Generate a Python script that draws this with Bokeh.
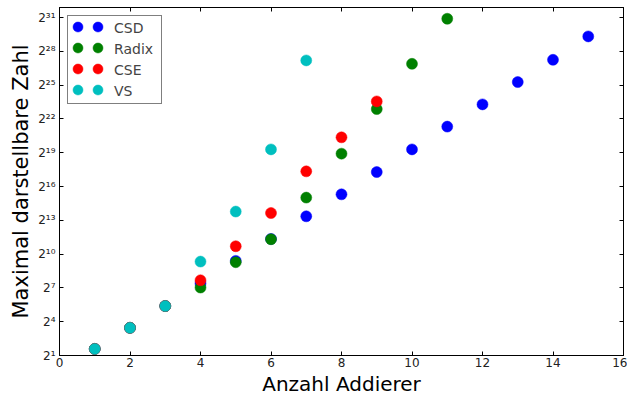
from bokeh.plotting import figure
from bokeh.models import (Range1d, FixedTicker, LinearAxis, LogAxis, Legend,
                          LegendItem, CustomJSTickFormatter)
from bokeh.embed import file_html
from bokeh.resources import INLINE

# ---- data ----
x_csd = list(range(1, 16))
csd = [3, 11, 42, 169, 676, 2610, 10500, 40600, 160000, 645000,
       2620000, 10300000, 40700000, 160000000, 675000000]

x_radix = list(range(1, 12))
radix = [3, 11, 42, 131, 622, 2560, 33200, 496000, 7720000,
         125000000, 2000000000]

x_cse = list(range(1, 10))
cse = [3, 11, 42, 205, 1664, 12860, 167000, 1355000, 12370000]

x_vs = list(range(1, 8))
vs = [3, 11, 42, 648, 14070, 645000, 154000000]

series_names = ["CSD", "Radix", "CSE", "VS"]
series_colors = ["#0000ff", "#008000", "#ff0000", "#00bfbf"]

x_ticks = [0, 2, 4, 6, 8, 10, 12, 14, 16]
y_tick_exponents = [1, 4, 7, 10, 13, 16, 19, 22, 25, 28, 31]

SUP = str.maketrans("0123456789", "⁰¹²³⁴⁵⁶⁷⁸⁹")
y_ticks = [2 ** e for e in y_tick_exponents]
y_labels = {2 ** e: "2" + str(e).translate(SUP) for e in y_tick_exponents}

FONT = "DejaVu Sans"

p = figure(width=627, height=398, output_backend="svg", toolbar_location=None,
           y_axis_type="log", x_range=Range1d(0, 16), y_range=Range1d(2, 4.0e9),
           min_border_left=59, min_border_right=4, min_border_top=7,
           min_border_bottom=10)
p.grid.visible = False
p.outline_line_color = "black"
p.outline_line_width = 1
p.background_fill_color = "white"
p.border_fill_color = "white"

# main axes
xa = p.xaxis[0]
xa.ticker = FixedTicker(ticks=x_ticks)
ya = p.yaxis[0]
ya.ticker = FixedTicker(ticks=y_ticks)
ya.major_label_overrides = y_labels
for ax in (xa, ya):
    ax.major_tick_in = 4
    ax.major_tick_out = 0
    ax.minor_tick_in = 0
    ax.minor_tick_out = 0
    ax.axis_line_color = "black"
    ax.major_tick_line_color = "black"
    ax.major_label_text_font = FONT
    ax.major_label_text_font_size = "12px"
    ax.major_label_text_color = "#222222"
    ax.axis_label_text_font = FONT
    ax.axis_label_text_font_style = "normal"
    ax.axis_label_text_color = "black"
xa.axis_label_text_font_size = "20px"
ya.axis_label_text_font_size = "21px"
xa.axis_label = "Anzahl Addierer"
ya.axis_label = "Maximal darstellbare Zahl"
xa.major_label_standoff = 2
xa.axis_label_standoff = 2
ya.major_label_standoff = 4
ya.axis_label_standoff = 2

blank = CustomJSTickFormatter(code="return ''")
top = LinearAxis(ticker=FixedTicker(ticks=x_ticks), formatter=blank,
                 major_tick_in=4, major_tick_out=0, minor_tick_in=0,
                 minor_tick_out=0, major_label_standoff=0,
                 axis_line_color="black")
right = LogAxis(ticker=FixedTicker(ticks=y_ticks), formatter=blank,
                major_tick_in=4, major_tick_out=0, minor_tick_in=0,
                minor_tick_out=0, major_label_standoff=0,
                axis_line_color="black")
p.add_layout(top, "above")
p.add_layout(right, "right")

xs = [x_csd, x_radix, x_cse, x_vs]
ys = [csd, radix, cse, vs]
label_items = []
renderers = []
for name, color, xv, yv in zip(series_names, series_colors, xs, ys):
    r = p.scatter(xv, yv, size=11, marker="circle", fill_color=color,
                  line_color=color, line_width=0.5)
    renderers.append(r)
    # invisible stand-in so the boxed legend shows only the labels
    ghost = p.scatter(x=[], y=[], size=1, fill_alpha=0, line_alpha=0)
    label_items.append(LegendItem(label=name, renderers=[ghost]))

# boxed legend with the labels
legend = Legend(items=label_items, location="top_left", margin=8, padding=3,
                glyph_width=17, glyph_height=18, label_height=18, spacing=3,
                label_width=44, label_standoff=26, label_text_font=FONT,
                label_text_font_size="14px", border_line_color="black",
                border_line_width=1, background_fill_alpha=1.0)
p.add_layout(legend, "center")

# two markers per entry (matplotlib numpoints=2 look), placed in screen px
ROW0, ROW_STEP = 316.5, 21.1
COLS = (5.5, 26.0)
for k, r in enumerate(renderers):
    for cx in COLS:
        lg = Legend(items=[LegendItem(label=" ", renderers=[r])],
                    location=(cx, ROW0 - ROW_STEP * k), margin=0, padding=0,
                    glyph_width=25, glyph_height=25, label_height=10,
                    spacing=0, label_width=1, label_standoff=0,
                    label_text_font=FONT, label_text_font_size="8px",
                    border_line_alpha=0, background_fill_alpha=0)
        p.add_layout(lg, "center")

open("out.html", "w").write(file_html(p, INLINE))
